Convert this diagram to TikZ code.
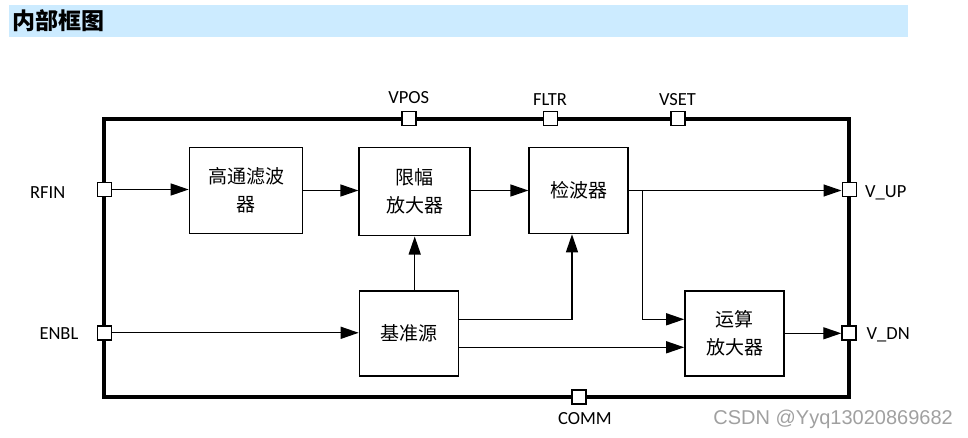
\documentclass[tikz,border=0pt]{standalone}
\usepackage{fontspec}
\setmainfont{Carlito}
\newfontfamily\cjk{Noto Sans CJK SC}
\newfontfamily\wmfont{Liberation Sans}
\usetikzlibrary{arrows.meta}
\definecolor{titlebar}{RGB}{204,235,255}
\definecolor{wmgray}{RGB}{160,160,160}
\begin{document}
\begin{tikzpicture}[x=1pt,y=-1pt]
\tikzset{sig/.style={-{Triangle[length=18pt,width=12pt]},line width=1.3pt}}
\tikzstyle{block}=[draw,rectangle,line width=1.6pt,align=center,font=\cjk\fontsize{19}{28}\selectfont]
\tikzstyle{pin}=[draw,rectangle,fill=white,line width=1.4pt,minimum size=14pt,inner sep=0pt]
\tikzstyle{lbl}=[font=\fontsize{18.5}{20}\selectfont,inner sep=0pt]
\useasboundingbox (0,0) rectangle (968,438);
\fill[titlebar] (9,5) rectangle (908,37);
\node[anchor=west,font=\cjk\bfseries\fontsize{23}{25}\selectfont,inner sep=0pt] (title)at(12,21){内部框图};
\draw[line width=4pt] (104,119.3) rectangle (849.3,396.7);
\node[block,minimum width=113pt,minimum height=86pt] (hpf)at(246,190.5){高通滤波\\器};
\node[block,minimum width=111pt,minimum height=88pt] (lim)at(414.7,191.7){限幅\\放大器};
\node[block,minimum width=99pt,minimum height=86pt] (det)at(578.7,190.5){检波器};
\node[block,minimum width=99pt,minimum height=85pt] (ref)at(409,333.3){基准源};
\node[block,minimum width=99pt,minimum height=85pt] (opa)at(734.5,333.3){运算\\放大器};
\node[pin] (rfin)at(104.5,189.5){};
\node[pin] (enbl)at(104.5,332.8){};
\node[pin] (vpos)at(408.8,118.5){};
\node[pin] (fltr)at(550.5,118.5){};
\node[pin] (vset)at(677.8,118.5){};
\node[pin] (vup)at(849.2,189.5){};
\node[pin] (vdn)at(849,332.8){};
\node[pin] (comm)at(578.8,397){};
\node[lbl,anchor=base west] (rfinl)at(30,198.3){RFIN};
\node[lbl,anchor=base west] (enbll)at(39.3,339.3){ENBL};
\node[lbl,anchor=base] (vposl)at(408.8,104){VPOS};
\node[lbl,anchor=base] (fltrl)at(550,105.3){FLTR};
\node[lbl,anchor=base] (vsetl)at(677.5,105.3){VSET};
\node[lbl,anchor=base west] (vupl)at(865,197.3){V\_UP};
\node[lbl,anchor=base west] (vdnl)at(866.5,339.3){V\_DN};
\node[lbl,anchor=base] (comml)at(585,424.3){COMM};
\node[anchor=base east,font=\wmfont\fontsize{20}{22}\selectfont,text=wmgray,inner sep=0pt] (wm)at(953,424.3){CSDN @Yyq13020869682};
\coordinate (tap)at(642.7,190.5);
\draw[sig] (rfin.east) -- (hpf.west |- rfin.east);
\draw[sig] (hpf.east) -- (hpf.east -| lim.west);
\draw[sig] (lim.east |- hpf.east) -- (det.west);
\draw[sig] (det.east) -- (det.east -| vup.west);
\draw[sig] (tap) |- ([yshift=14pt]opa.west);
\draw[sig] (enbl.east) -- (ref.west |- enbl.east);
\draw[sig] (lim.south |- ref.north) -- (lim.south);
\draw[sig] ([yshift=14pt]ref.east) -| ([xshift=-6.7pt]det.south);
\draw[sig] ([yshift=-14pt]ref.east) -- ([yshift=-14pt]ref.east -| opa.west);
\draw[sig] (opa.east) -- (vdn.west |- opa.east);
\end{tikzpicture}
\end{document}
